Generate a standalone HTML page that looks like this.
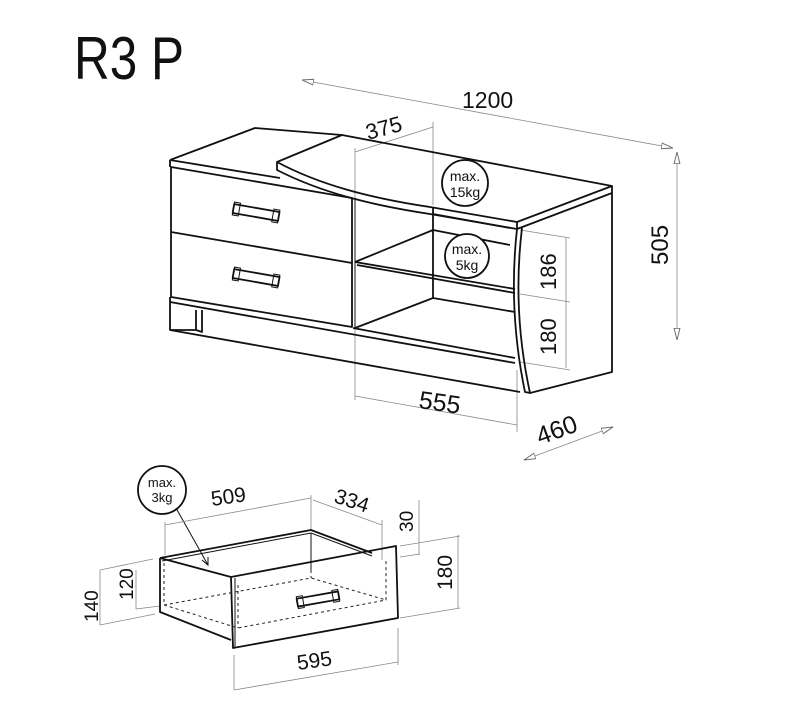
<!DOCTYPE html>
<html><head><meta charset="utf-8"><style>
html,body{margin:0;padding:0;background:#fff}
svg{display:block}
text{font-family:"Liberation Sans",sans-serif;fill:#111}
.k{stroke:#111;stroke-width:1.8;fill:none;stroke-linejoin:round}
.t{stroke:#111;stroke-width:1;fill:none}
.g{stroke:#888;stroke-width:0.8;fill:none}
.d{stroke:#222;stroke-width:1;fill:none;stroke-dasharray:3 3}
</style></head><body>
<svg width="800" height="716" viewBox="0 0 800 716">
<defs>
<marker id="a" viewBox="0 0 10 6" refX="10" refY="3" markerWidth="12" markerHeight="7" orient="auto-start-reverse" markerUnits="userSpaceOnUse">
<path d="M0,0.5 L10,3 L0,5.5 Z" fill="#fff" stroke="#666" stroke-width="0.8"/></marker>
</defs>
<text x="74" y="79" font-size="60" textLength="110" lengthAdjust="spacingAndGlyphs">R3 P</text>

<!-- dimension lines -->
<line class="g" x1="302" y1="80" x2="673" y2="148" marker-start="url(#a)" marker-end="url(#a)"/>
<text x="462" y="108" font-size="23">1200</text>
<line class="g" x1="677" y1="152" x2="677" y2="340" marker-start="url(#a)" marker-end="url(#a)"/>
<text x="668" y="265" font-size="24" transform="rotate(-90 668 265)">505</text>
<line class="g" x1="355" y1="152" x2="433" y2="127"/>
<line class="g" x1="355" y1="148" x2="355" y2="400"/>
<line class="g" x1="433" y1="122" x2="433" y2="205"/>
<text x="368" y="140" font-size="22" transform="rotate(-15 368 140)">375</text>
<line class="g" x1="520" y1="230" x2="570" y2="238"/>
<line class="g" x1="520" y1="294" x2="570" y2="302"/>
<line class="g" x1="520" y1="362" x2="570" y2="370"/>
<line class="g" x1="566" y1="238" x2="566" y2="368"/>
<text x="556" y="290" font-size="22" transform="rotate(-90 556 290)">186</text>
<text x="556" y="355" font-size="22" transform="rotate(-90 556 355)">180</text>
<line class="g" x1="355" y1="396" x2="517" y2="425"/>
<line class="g" x1="517" y1="370" x2="517" y2="432"/>
<text x="418" y="408" font-size="25" transform="rotate(8 418 408)">555</text>
<line class="g" x1="524" y1="460" x2="613" y2="427" marker-start="url(#a)" marker-end="url(#a)"/>
<text x="540" y="445" font-size="25" transform="rotate(-20 540 445)">460</text>

<!-- cabinet -->
<path class="k" d="M170,160 L255,128 L342,135"/>
<path class="k" d="M170,160 L170,167 M170,160 L280,178"/>
<path class="k" d="M171,167 L352,198 L352,327 L171,297 Z"/>
<path class="k" d="M171,232 L352,263"/>
<path class="t" d="M355,198 L355,328"/>
<!-- handles -->
<g transform="rotate(10 256 213)"><rect class="k" x="233" y="208" width="46" height="9"/><rect class="t" x="233" y="206" width="6" height="13"/><rect class="t" x="273" y="206" width="6" height="13"/></g>
<g transform="rotate(10 256 278)"><rect class="k" x="233" y="273" width="46" height="9"/><rect class="t" x="233" y="271" width="6" height="13"/><rect class="t" x="273" y="271" width="6" height="13"/></g>
<!-- plinth -->
<path class="k" d="M170,297 L170,330 L520,392"/>
<path class="k" d="M170,302 L515,363"/>
<path class="k" d="M170,330 L196,330 M196,310 L196,330 L202,332 L202,310"/>
<path class="k" d="M353,328 L515,358"/>
<!-- top swivel board -->
<path class="k" d="M277,162 L342,135 L612,186 L517,222 L430,207 C370,198 320,185 277,162 Z"/>
<path class="k" d="M277,162 L277,170 C320,192 370,205 430,214 L517,229 L517,222"/>
<path class="k" d="M612,186 L612,193 L517,229"/>
<!-- inner -->
<path class="k" d="M433,207 L433,298"/>
<path class="k" d="M433,214 L510,228"/>
<path class="k" d="M355,262 L433,230 L510,245"/>
<path class="k" d="M355,262 L515,289 M357,265 L515,293"/>
<path class="k" d="M355,328 L433,298 L515,312"/>
<!-- right side -->
<path class="k" d="M517,229 Q508,310 525,392 L530,393 Q512,310 522,228"/>
<path class="k" d="M612,193 L612,372 L530,393"/>
<!-- weight circles -->
<circle class="k" cx="465" cy="183" r="23" style="fill:#fff"/>
<text x="465" y="181" font-size="14" text-anchor="middle">max.</text>
<text x="465" y="197" font-size="14" text-anchor="middle">15kg</text>
<circle class="k" cx="467" cy="256" r="22" style="fill:#fff"/>
<text x="467" y="254" font-size="14" text-anchor="middle">max.</text>
<text x="467" y="270" font-size="14" text-anchor="middle">5kg</text>

<!-- drawer -->
<circle class="k" cx="162" cy="490" r="24"/>
<text x="162" y="487" font-size="13" text-anchor="middle">max.</text>
<text x="162" y="502" font-size="13" text-anchor="middle">3kg</text>
<line class="t" x1="176" y1="508" x2="208" y2="565"/>
<path class="t" d="M202,560 L208,565 L208,557"/>
<line class="g" x1="165" y1="525" x2="311" y2="498"/>
<line class="g" x1="165" y1="522" x2="165" y2="555"/>
<line class="g" x1="311" y1="495" x2="311" y2="530"/>
<text x="212" y="506" font-size="21" transform="rotate(-8 212 506)">509</text>
<line class="g" x1="313" y1="500" x2="382" y2="525"/>
<line class="g" x1="382" y1="520" x2="382" y2="560"/>
<text x="333" y="502" font-size="21" transform="rotate(18 333 502)">334</text>
<line class="g" x1="419" y1="500" x2="419" y2="555"/>
<line class="g" x1="400" y1="546" x2="460" y2="536"/>
<line class="g" x1="400" y1="557" x2="420" y2="554"/>
<text x="413" y="532" font-size="19" transform="rotate(-90 413 532)">30</text>
<line class="g" x1="458" y1="535" x2="458" y2="608"/>
<line class="g" x1="400" y1="618" x2="460" y2="608"/>
<text x="452" y="590" font-size="21" transform="rotate(-90 452 590)">180</text>
<line class="g" x1="234" y1="655" x2="234" y2="690"/>
<line class="g" x1="398" y1="628" x2="398" y2="665"/>
<line class="g" x1="234" y1="690" x2="398" y2="662"/>
<text x="298" y="670" font-size="21" transform="rotate(-8 298 670)">595</text>
<line class="g" x1="100" y1="570" x2="100" y2="625"/>
<line class="g" x1="100" y1="570" x2="153" y2="559"/>
<line class="g" x1="100" y1="625" x2="155" y2="614"/>
<line class="g" x1="136" y1="570" x2="136" y2="609"/>
<line class="g" x1="136" y1="609" x2="160" y2="606"/>
<text x="98" y="622" font-size="19" transform="rotate(-90 98 622)">140</text>
<text x="133" y="600" font-size="19" transform="rotate(-90 133 600)">120</text>
<path class="k" d="M160,558 L311,530 L372,553"/>
<path class="t" d="M162,561 L311,533 L372,556"/>
<path class="k" d="M160,558 L160,612 L231,640"/>
<path class="k" d="M160,558 L231,577"/>
<path class="t" d="M311,533 L311,570"/>
<path class="k" d="M231,577 L396,546 L398,618 L233,648 Z"/>
<path class="t" d="M235,578 L235,648"/>
<path class="d" d="M164,563 L164,605 L238,628 L386,600 L386,558 M164,605 L311,578 L386,600 M238,585 L238,628 M311,570 L311,578"/>
<g transform="rotate(-10 318 599)"><rect class="k" x="297" y="595" width="42" height="8"/><rect class="t" x="297" y="593" width="6" height="12"/><rect class="t" x="333" y="593" width="6" height="12"/></g>
</svg>
</body></html>
